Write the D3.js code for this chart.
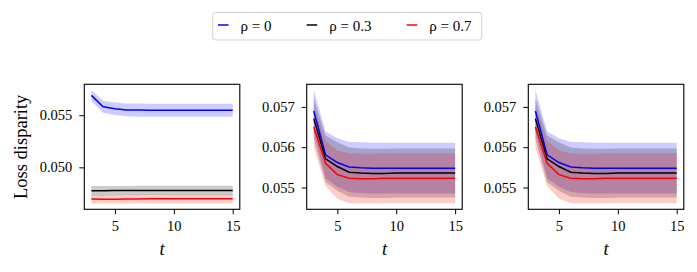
<!DOCTYPE html>
<html>
<head>
<meta charset="utf-8">
<script src="https://cdn.jsdelivr.net/npm/d3@7"></script>
<style>
    body { margin: 0; background: #fff; }
</style>
</head>
<body>
<div id="chart"></div>
<script>
// data
const steps = [3, 4, 5, 6, 7, 8, 9, 10, 11, 12, 13, 14, 15];
const xTicks = [5, 10, 15];
const seriesNames = ['ρ = 0', 'ρ = 0.3', 'ρ = 0.7'];
const seriesColors = ['blue', 'black', 'red'];

// rho = 0 (shared by all panels)
const blueMean = [0.05690, 0.05581, 0.05562, 0.05551, 0.05549, 0.05548, 0.05548, 0.05548, 0.05548, 0.05548, 0.05548, 0.05548, 0.05548];
const blueStd  = [0.00052, 0.00058, 0.00060, 0.00062, 0.00063, 0.00063, 0.00063, 0.00063, 0.00063, 0.00063, 0.00063, 0.00063, 0.00063];

// panel 1
const blackMeanA = [0.04776, 0.04776, 0.04777, 0.04777, 0.04778, 0.04779, 0.04779, 0.04778, 0.04778, 0.04778, 0.04778, 0.04778, 0.04778];
const blackStdA  = [0.00045, 0.00045, 0.00045, 0.00045, 0.00045, 0.00045, 0.00045, 0.00045, 0.00045, 0.00045, 0.00045, 0.00045, 0.00045];
const redMeanA   = [0.04696, 0.04694, 0.04695, 0.04696, 0.04697, 0.04698, 0.04698, 0.04698, 0.04698, 0.04698, 0.04698, 0.04698, 0.04698];
const redStdA    = [0.00040, 0.00042, 0.00042, 0.00042, 0.00042, 0.00042, 0.00042, 0.00042, 0.00042, 0.00042, 0.00042, 0.00042, 0.00042];

// panels 2 and 3
const blackMeanB = [0.05671, 0.05571, 0.05552, 0.05538, 0.05536, 0.05535, 0.05535, 0.05536, 0.05536, 0.05536, 0.05536, 0.05536, 0.05536];
const blackStdB  = [0.00050, 0.00058, 0.00060, 0.00061, 0.00061, 0.00061, 0.00061, 0.00061, 0.00061, 0.00061, 0.00061, 0.00061, 0.00061];
const redMeanB   = [0.05650, 0.05560, 0.05532, 0.05523, 0.05522, 0.05522, 0.05523, 0.05523, 0.05523, 0.05523, 0.05523, 0.05523, 0.05523];
const redStdB    = [0.00050, 0.00056, 0.00060, 0.00062, 0.00062, 0.00062, 0.00062, 0.00062, 0.00062, 0.00062, 0.00062, 0.00062, 0.00062];

const panels = [
    { yTicks: [0.050, 0.055], fmt: '.3f', label: 'Loss disparity',
      series: [[blueMean, blueStd], [blackMeanA, blackStdA], [redMeanA, redStdA]] },
    { yTicks: [0.055, 0.056, 0.057], fmt: '.3f', label: null,
      series: [[blueMean, blueStd], [blackMeanB, blackStdB], [redMeanB, redStdB]] },
    { yTicks: [0.055, 0.056, 0.057], fmt: '.3f', label: null,
      series: [[blueMean, blueStd], [blackMeanB, blackStdB], [redMeanB, redStdB]] }
];

const width = 697;
const height = 272;
const plotTop = 84.3;
const plotBottom = 209.3;
const panelLeft = [84.3, 306.7, 528.3];
const panelWidth = 155.5;
const serif = "'Liberation Serif', 'Times New Roman', serif";

const svg = d3.select('#chart')
    .append('svg')
    .attr('width', width)
    .attr('height', height)
    .attr('font-family', serif);

const padded = ([lo, hi], f) => [lo - (hi - lo) * f, hi + (hi - lo) * f];

// d3 axes put sans-serif 10px on the group, so reset it afterwards
const styleAxis = a => a
    .attr('font-family', serif)
    .attr('font-size', '14.5px')
    .call(g => g.select('.domain').remove())
    .call(g => g.selectAll('text').attr('fill', '#000').attr('font-family', serif));

const drawPanel = (p, i) => {
    const x0 = panelLeft[i];

    const x = d3.scaleLinear()
        .domain(padded(d3.extent(steps), 0.05))
        .range([x0, x0 + panelWidth]);

    const lows = p.series.flatMap(([m, s]) => m.map((v, j) => v - s[j]));
    const highs = p.series.flatMap(([m, s]) => m.map((v, j) => v + s[j]));
    const y = d3.scaleLinear()
        .domain(padded([d3.min(lows), d3.max(highs)], 0.05))
        .range([plotBottom, plotTop]);

    const g = svg.append('g');

    const area = (m, s) => d3.area()
        .x((d, j) => x(steps[j]))
        .y0((d, j) => y(m[j] - s[j]))
        .y1((d, j) => y(m[j] + s[j]));

    const line = m => d3.line()
        .x((d, j) => x(steps[j]))
        .y((d, j) => y(m[j]));

    p.series.forEach(([m, s], k) => {
        g.append('path')
            .attr('d', area(m, s)(m))
            .attr('fill', seriesColors[k])
            .attr('fill-opacity', 0.2);
    });

    p.series.forEach(([m], k) => {
        g.append('path')
            .attr('d', line(m)(m))
            .attr('fill', 'none')
            .attr('stroke', seriesColors[k])
            .attr('stroke-width', 1.5);
    });

    g.append('g')
        .attr('transform', `translate(0, ${plotBottom})`)
        .call(d3.axisBottom(x).tickValues(xTicks).tickSize(5).tickPadding(6).tickSizeOuter(0))
        .call(styleAxis);

    g.append('g')
        .attr('transform', `translate(${x0}, 0)`)
        .call(d3.axisLeft(y).tickValues(p.yTicks).tickFormat(d3.format(p.fmt)).tickSize(5).tickPadding(7).tickSizeOuter(0))
        .call(styleAxis);

    g.append('rect')
        .attr('x', x0)
        .attr('y', plotTop)
        .attr('width', panelWidth)
        .attr('height', plotBottom - plotTop)
        .attr('fill', 'none')
        .attr('stroke', '#000')
        .attr('stroke-width', 1.1);

    g.append('text')
        .attr('x', x0 + panelWidth / 2)
        .attr('y', 255)
        .attr('text-anchor', 'middle')
        .attr('font-size', '18.5px')
        .attr('font-style', 'italic')
        .text('t');

    if (p.label) {
        g.append('text')
            .attr('transform', `translate(27, ${(plotTop + plotBottom) / 2}) rotate(-90)`)
            .attr('text-anchor', 'middle')
            .attr('font-size', '18.5px')
            .text(p.label);
    }
};

panels.forEach(drawPanel);

// legend
const legend = svg.append('g');
legend.append('rect')
    .attr('x', 212.7)
    .attr('y', 12.3)
    .attr('width', 269)
    .attr('height', 27.7)
    .attr('rx', 3)
    .attr('fill', '#fff')
    .attr('stroke', '#d0d0d0')
    .attr('stroke-width', 1);

const legendX = [218, 306.7, 406.7];
seriesNames.forEach((name, k) => {
    legend.append('line')
        .attr('x1', legendX[k])
        .attr('x2', legendX[k] + 10.5)
        .attr('y1', 25)
        .attr('y2', 25)
        .attr('stroke', seriesColors[k])
        .attr('stroke-width', 1.5);
    legend.append('text')
        .attr('x', legendX[k] + 22.5)
        .attr('y', 30.5)
        .attr('font-size', '15px')
        .text(name);
});
</script>
</body>
</html>
